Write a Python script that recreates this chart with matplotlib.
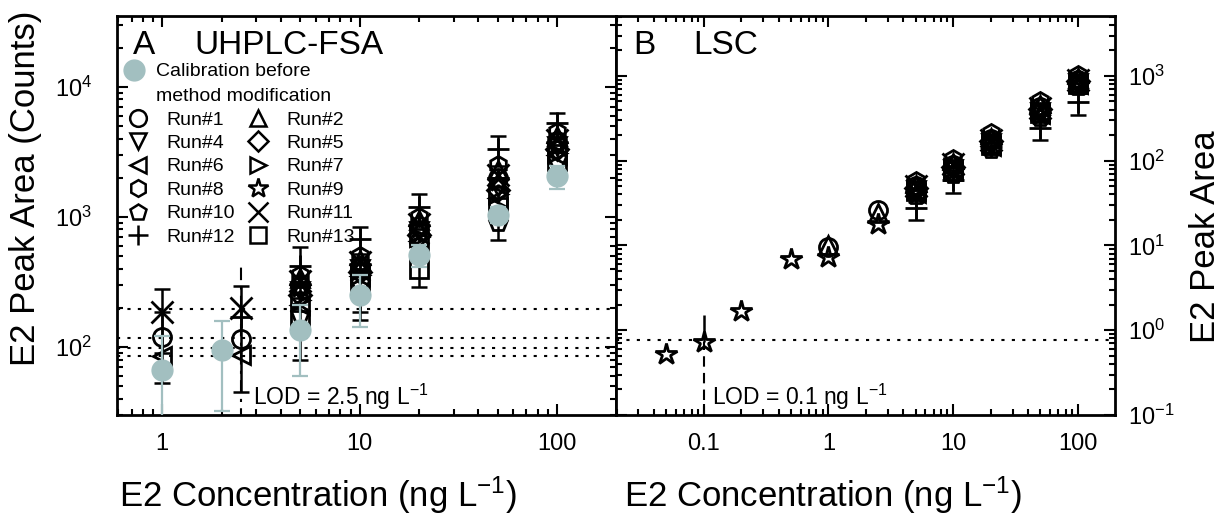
import numpy as np
import matplotlib
matplotlib.use("Agg")
import matplotlib.pyplot as plt
from matplotlib.lines import Line2D
from matplotlib.ticker import LogLocator, FuncFormatter, NullFormatter

plt.rcParams['font.family'] = ['Liberation Sans', 'DejaVu Sans']
plt.rcParams['mathtext.fontset'] = 'custom'
plt.rcParams['mathtext.rm'] = 'Liberation Sans'
plt.rcParams['mathtext.it'] = 'Liberation Sans:italic'
plt.rcParams['mathtext.bf'] = 'Liberation Sans:bold'

nan = np.nan

# ---------------- Panel A: UHPLC-FSA ----------------
conc_A = [1, 2.5, 5, 10, 20, 50, 100]
cal_conc = [1, 2, 5, 10, 20, 50, 100]
cal_counts = [66, 95, 135, 250, 510, 1040, 2050]
cal_err = [55, 63, 75, 108, 100, 150, 400]

run_labels = ["Run#1", "Run#2", "Run#4", "Run#5", "Run#6", "Run#7",
              "Run#8", "Run#9", "Run#10", "Run#11", "Run#12", "Run#13"]
run_markers = ["o", "^", "v", "D", "<", ">", "h", "*", "p", "x", "+", "s"]

runA_1 = [120, 115, 300, 420, 850, 2000, 3800]
runA_2 = [nan, nan, 340, 470, 950, 2300, 4200]
runA_4 = [nan, nan, 270, 400, 780, 1700, 3500]
runA_5 = [nan, nan, 250, 380, 720, 1600, 3300]
runA_6 = [85, 87, 210, 350, 650, 1400, 3000]
runA_7 = [nan, nan, 230, 360, 700, 1500, 3100]
runA_8 = [nan, nan, 360, 500, 1000, 2500, 4500]
runA_9 = [nan, nan, 290, 410, 820, 1900, 3600]
runA_10 = [nan, nan, 180, 310, 600, 900, 2800]
runA_11 = [185, 200, 320, 450, 880, 2100, 3900]
runA_12 = [nan, 170, 420, 680, 1200, 3300, 5300]
runA_13 = [nan, nan, 160, 300, 400, 1200, 2700]

errA_1 = [67, 0, 0, 0, 0, 0, 0]
errA_10 = [0, 0, 0, 125, 0, 240, 0]
errA_11 = [95, 0, 0, 0, 0, 0, 0]
errA_12 = [0, 125, 165, 160, 300, 850, 1000]
errA_13 = [0, 0, 80, 140, 110, 0, 0]

runs_A = [runA_1, runA_2, runA_4, runA_5, runA_6, runA_7,
          runA_8, runA_9, runA_10, runA_11, runA_12, runA_13]
errs_A = {0: errA_1, 8: errA_10, 9: errA_11, 10: errA_12, 11: errA_13}

lod_lines_A = [196, 117, 98, 85]
lod_A = 2.5
lod_A_top = 450

# ---------------- Panel B: LSC ----------------
conc_B = [0.05, 0.1, 0.2, 0.5, 1, 2.5, 5, 10, 20, 50, 100]
runB_1 = [nan, nan, nan, nan, 9.6, 26, 50, 90, 180, 430, 900]
runB_2 = [nan, nan, nan, nan, 10.0, 24, 52, 95, 185, 450, 950]
runB_4 = [nan, nan, nan, nan, nan, nan, 45, 80, 160, 380, 820]
runB_5 = [nan, nan, nan, nan, nan, nan, 48, 85, 170, 410, 870]
runB_6 = [nan, nan, nan, nan, nan, nan, 42, 78, 150, 360, 800]
runB_7 = [nan, nan, nan, nan, nan, nan, 46, 82, 165, 400, 850]
runB_8 = [nan, nan, nan, nan, nan, nan, 58, 105, 210, 500, 1020]
runB_9 = [0.53, 0.72, 1.7, 7.0, 7.3, 18, 40, 75, 150, 350, 780]
runB_10 = [nan, nan, nan, nan, nan, nan, 38, 68, 135, 320, 740]
runB_11 = [nan, nan, nan, nan, nan, nan, 50, 92, 175, 420, 890]
runB_12 = [nan, nan, nan, nan, nan, nan, 28, 60, 150, 245, 490]
runB_13 = [nan, nan, nan, nan, nan, nan, 44, 76, 155, 370, 810]

errB_12 = [0, 0, 0, 0, 0, 0, 8, 18, 30, 68, 140]
errB_9_up = [0, 0.8, 0, 0, 0, 0, 0, 0, 0, 0, 0]

runs_B = [runB_1, runB_2, runB_4, runB_5, runB_6, runB_7,
          runB_8, runB_9, runB_10, runB_11, runB_12, runB_13]

lod_line_B = 0.76
lod_B = 0.1

cal_color = "#a2bfc0"

fig = plt.figure(figsize=(12.26, 5.17), dpi=100)
W, H = 1226, 517
axA = fig.add_axes([117 / W, 102 / H, 499 / W, 399 / H])
axB = fig.add_axes([616 / W, 102 / H, 499 / W, 399 / H])


def marker_size(mk, base):
    if mk in ("*", "x", "+"):
        return base + 3
    if mk == "D":
        return base - 2
    return base


def draw_runs(ax, conc, runs, zorder=3):
    for vals, mk in zip(runs, run_markers):
        ax.plot(conc, vals, linestyle="none", marker=mk, ms=marker_size(mk, 13),
                mfc="none", mec="black", mew=2.0, color="black", zorder=zorder)


def draw_err(ax, conc, vals, err, capsize=6, color="black", lw=1.8, zorder=3):
    c = np.array(conc, float)
    v = np.array(vals, float)
    e = np.array(err, float)
    m = (e > 0) & np.isfinite(v)
    if m.any():
        ax.errorbar(c[m], v[m], yerr=e[m], fmt="none", ecolor=color,
                    elinewidth=lw, capsize=capsize, capthick=lw, zorder=zorder)


# Panel A drawing
for y in lod_lines_A:
    axA.axhline(y, color="black", lw=1.5, ls=(0, (1.5, 3.5)), zorder=1)
axA.vlines(lod_A, 10, lod_A_top, colors="black", lw=1.5, linestyles=(0, (6, 3, 1.5, 3)), zorder=1)

draw_runs(axA, conc_A, runs_A)
for i, e in errs_A.items():
    draw_err(axA, conc_A, runs_A[i], e)

draw_err(axA, cal_conc, cal_counts, cal_err, color=cal_color, lw=1.6, zorder=4)
axA.plot(cal_conc, cal_counts, linestyle="none", marker="o", ms=15,
         mfc=cal_color, mec=cal_color, zorder=5)

axA.set_xscale("log")
axA.set_yscale("log")
axA.set_xlim(0.59, 199)
axA.set_ylim(30, 35000)

axA.text(0.032, 0.927, "A", transform=axA.transAxes, fontsize=24, va="center", ha="left")
axA.text(0.156, 0.927, "UHPLC-FSA", transform=axA.transAxes, fontsize=24, va="center", ha="left")
axA.text(0.273, 0.045, "LOD = 2.5 ng L$^{-1}$", transform=axA.transAxes, fontsize=16.5,
         va="center", ha="left")

# Legends
cal_handle = Line2D([], [], linestyle="none", marker="o", ms=15, mfc=cal_color, mec=cal_color)
blank = Line2D([], [], linestyle="none")
leg1 = axA.legend([cal_handle, blank], ["Calibration before", "method modification"],
                  loc="upper left", bbox_to_anchor=(0.005, 0.8825), frameon=False,
                  fontsize=14, borderpad=0, borderaxespad=0, handlelength=1.5,
                  handletextpad=0.4, labelspacing=0.36)
axA.add_artist(leg1)

order = [0, 2, 4, 6, 8, 10, 1, 3, 5, 7, 9, 11]
handles = []
for i in order:
    mk = run_markers[i]
    handles.append(Line2D([], [], linestyle="none", marker=mk, ms=marker_size(mk, 12),
                          mfc="none", mec="black", mew=1.8, color="black"))
labels = [run_labels[i] for i in order]
axA.legend(handles, labels, loc="upper left", bbox_to_anchor=(0.019, 0.762), ncol=2,
           frameon=False, fontsize=14, borderpad=0, borderaxespad=0, handlelength=1.2,
           handletextpad=0.85, labelspacing=0.30, columnspacing=0.6)

# Panel B drawing
axB.axhline(lod_line_B, color="black", lw=1.5, ls=(0, (1.5, 3.5)), zorder=1)
axB.vlines(lod_B, 0.01, runB_9[1], colors="black", lw=1.5, linestyles=(0, (5, 3)), zorder=1)
draw_runs(axB, conc_B, runs_B)
draw_err(axB, conc_B, runB_12, errB_12)
c = np.array(conc_B)
up = np.array(errB_9_up)
m = up > 0
axB.errorbar(c[m], np.array(runB_9)[m], yerr=[np.zeros(m.sum()), up[m]], fmt="none",
             ecolor="black", elinewidth=1.8, capsize=0, zorder=3)

axB.set_xscale("log")
axB.set_yscale("log")
axB.set_xlim(0.0198, 199)
axB.set_ylim(0.1, 5100)

axB.text(0.034, 0.927, "B", transform=axB.transAxes, fontsize=24, va="center", ha="left")
axB.text(0.154, 0.927, "LSC", transform=axB.transAxes, fontsize=24, va="center", ha="left")
axB.text(0.192, 0.045, "LOD = 0.1 ng L$^{-1}$", transform=axB.transAxes, fontsize=16.5,
         va="center", ha="left")

fmt_plain = FuncFormatter(lambda v, p: f"{v:g}")
for ax in (axA, axB):
    for s in ax.spines.values():
        s.set_linewidth(2)
    ax.xaxis.set_major_locator(LogLocator(base=10, numticks=12))
    ax.xaxis.set_minor_locator(LogLocator(base=10, subs=np.arange(2, 10), numticks=12))
    ax.yaxis.set_major_locator(LogLocator(base=10, numticks=12))
    ax.yaxis.set_minor_locator(LogLocator(base=10, subs=np.arange(2, 10), numticks=12))
    ax.xaxis.set_major_formatter(fmt_plain)
    ax.xaxis.set_minor_formatter(NullFormatter())
    ax.yaxis.set_minor_formatter(NullFormatter())
    ax.tick_params(which="both", direction="in", top=True, right=True, left=True,
                   bottom=True, width=1.5, labelsize=17)
    ax.tick_params(which="major", length=8)
    ax.tick_params(which="minor", length=4)
    ax.tick_params(axis="x", pad=13)
    ax.set_xlabel("E2 Concentration (ng L$^{-1}$)", fontsize=25)

axA.tick_params(axis="y", pad=18)
axB.tick_params(axis="y", labelleft=False, labelright=True, pad=9)

axA.set_ylabel("E2 Peak Area (Counts)", fontsize=25)
axA.yaxis.set_label_coords(-0.150, 0.569)
axB.set_ylabel("E2 Peak Area", fontsize=25)
axB.yaxis.set_label_position("right")
axB.yaxis.set_label_coords(1.148, 0.446)
axA.xaxis.set_label_coords(0.403, -0.15)
axB.xaxis.set_label_coords(0.415, -0.15)

fig.savefig("out.png", dpi=100)
